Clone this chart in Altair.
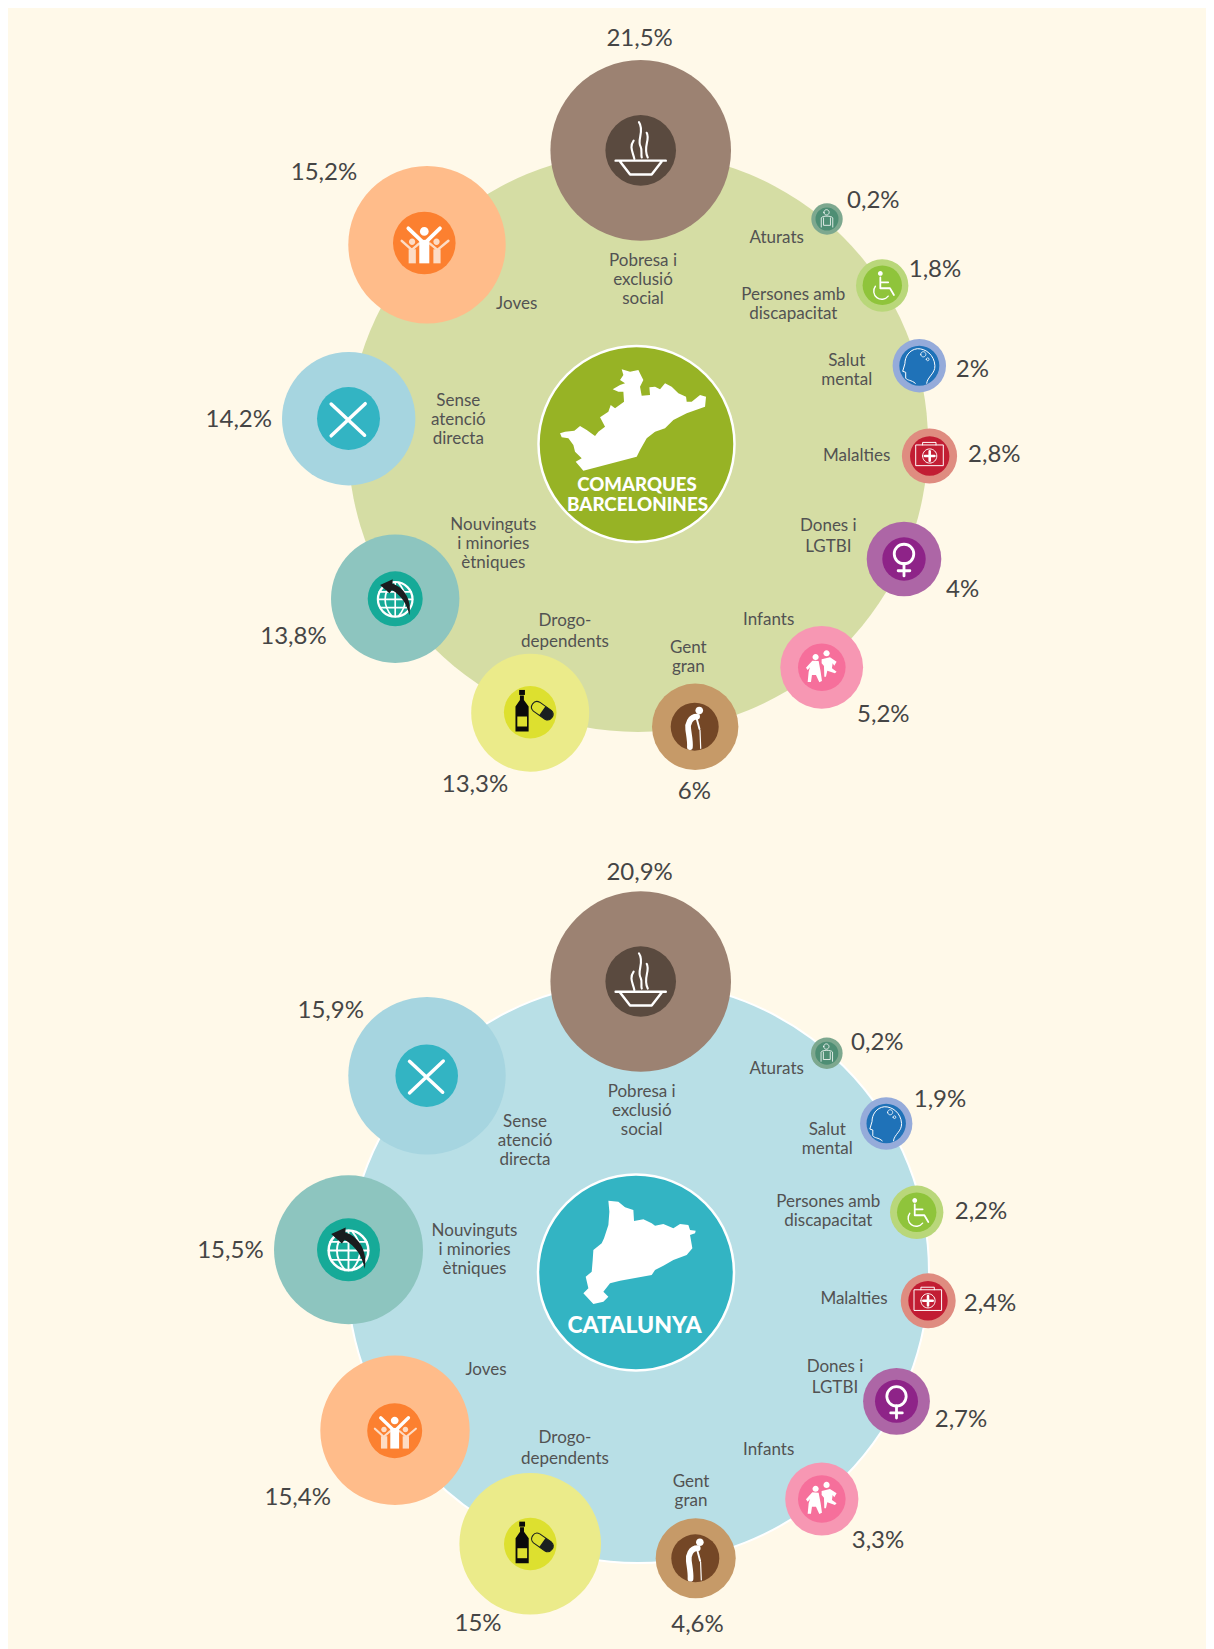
import altair as alt
import pandas as pd

# ---- reading values -------------------------------------------------------
KEYS = ["pobresa", "joves", "sense", "nouv", "drogo", "gent", "infants", "dones", "malalties", "salut", "discap", "aturats"]
NAMES = {
    "pobresa": "Pobresa i\nexclusió\nsocial", "joves": "Joves", "sense": "Sense\natenció\ndirecta",
    "nouv": "Nouvinguts\ni minories\nètniques", "drogo": "Drogo-\ndependents", "gent": "Gent\ngran",
    "infants": "Infants", "dones": "Dones i\nLGTBI", "malalties": "Malalties", "salut": "Salut\nmental",
    "discap": "Persones amb\ndiscapacitat", "aturats": "Aturats",
}
values_barcelona = ["21,5%", "15,2%", "14,2%", "13,8%", "13,3%", "6%", "5,2%", "4%", "2,8%", "2%", "1,8%", "0,2%"]
values_catalunya = ["20,9%", "15,4%", "15,9%", "15,5%", "15%", "4,6%", "3,3%", "2,7%", "2,4%", "1,9%", "2,2%", "0,2%"]
panel_titles = [("COMARQUES", 637, 485, 18.6), ("BARCELONINES", 637.5, 505, 18.8), ("CATALUNYA", 634.5, 1326, 23)]

# ---- layout, outside the value arrays --------------------------------------
OUTER = {"pobresa": "#9C8272", "joves": "#FFBC8A", "sense": "#A6D5E0", "nouv": "#8DC5BF", "drogo": "#EBEB8A", "gent": "#C69A68",
         "infants": "#F797B3", "dones": "#AD66A6", "malalties": "#DF8C80", "salut": "#95ABDA", "discap": "#B9D77A", "aturats": "#7DA88F"}
INNER = {"pobresa": "#5A4A3F", "joves": "#FC8030", "sense": "#33B4C3", "nouv": "#16AA98", "drogo": "#DDE02F", "gent": "#744726",
         "infants": "#F66F9B", "dones": "#8E2388", "malalties": "#C21D33", "salut": "#1F72B8", "discap": "#8FC43B", "aturats": "#4E8E74"}
# key: x, y, outer r, inner x, inner y, inner r
BUB1 = {"pobresa": (640.7, 150.4, 90.3, 640.7, 150.4, 35.3), "joves": (427, 244.7, 78.7, 424.3, 243, 31.3),
        "sense": (348.7, 418.7, 66.7, 348.5, 418.5, 31.5), "nouv": (395.2, 598.8, 64.2, 395.2, 598.8, 27.5),
        "drogo": (530.2, 712.7, 59, 530.2, 712.3, 26.3), "gent": (695.2, 726.8, 43.2, 694.7, 726.7, 24),
        "infants": (821.7, 667.3, 41.4, 821.8, 667.3, 23.8), "dones": (904, 559, 37.3, 904, 559, 21.7),
        "malalties": (929.5, 456, 27.6, 929.7, 456, 19.7), "salut": (919.3, 365.7, 26.7, 919.3, 365.7, 20),
        "discap": (882.2, 285.5, 26.2, 882.3, 285.3, 19.7), "aturats": (827, 219, 15.7, 827, 219, 11.5)}
BUB2 = {"pobresa": (640.7, 981.5, 90.3, 640.7, 981.5, 35.3), "joves": (395, 1430.3, 74.7, 394.7, 1430.7, 27.5),
        "sense": (427, 1075.7, 78.7, 426.7, 1075.7, 31.3), "nouv": (348.5, 1249.8, 74.5, 348.5, 1249.8, 31.5),
        "drogo": (530.2, 1543.8, 70.8, 530.3, 1544, 26.3), "gent": (695.7, 1558.3, 40, 695.3, 1558.3, 24),
        "infants": (821.8, 1499, 36.6, 821.8, 1499, 23.8), "dones": (896.5, 1401.3, 33.4, 896.5, 1401.3, 21.5),
        "malalties": (928.2, 1300.8, 27.5, 928, 1300.8, 19.7), "salut": (886.2, 1123.5, 26.2, 886.2, 1123.5, 19.7),
        "discap": (916.7, 1212.3, 26.7, 916.7, 1212.3, 19.7), "aturats": (826.8, 1053.2, 15.8, 826.8, 1053.2, 11.5)}
# category label anchor: x, y of the block centre, line height
LAB1 = {"pobresa": (643, 279.3, 19), "joves": (516.7, 303.3, 19), "sense": (458.3, 419, 19), "nouv": (493.3, 543.3, 19),
        "drogo": (565, 630, 21), "gent": (688.3, 656.7, 19), "infants": (768.7, 618.7, 19), "dones": (828.3, 535, 21),
        "malalties": (856.7, 454.7, 19), "salut": (846.7, 369, 19), "discap": (793.3, 303.3, 19), "aturats": (776.7, 236.7, 19)}
LAB2 = {"pobresa": (641.7, 1110, 19), "joves": (486, 1369, 19), "sense": (525, 1140, 19), "nouv": (474.5, 1248.7, 19),
        "drogo": (565, 1447.3, 21), "gent": (691, 1490.7, 19), "infants": (768.7, 1449.3, 19), "dones": (835, 1376, 21),
        "malalties": (854, 1298.3, 19), "salut": (827.3, 1138.3, 19), "discap": (828.3, 1210, 19), "aturats": (776.7, 1068.3, 19)}
# percentage label anchor
PCT1 = {"pobresa": (639.6, 37.9), "joves": (324, 171.5), "sense": (238.8, 418.7), "nouv": (293.5, 635.4), "drogo": (475, 783.3),
        "gent": (694.3, 790.7), "infants": (883.3, 713.3), "dones": (962.7, 588.3), "malalties": (994.3, 453.3),
        "salut": (972.3, 368.3), "discap": (935, 268.3), "aturats": (873.3, 199)}
PCT2 = {"pobresa": (639.6, 871), "joves": (297.7, 1496.7), "sense": (330.7, 1009.3), "nouv": (230.4, 1249.8), "drogo": (478, 1622.3),
        "gent": (697.5, 1623.3), "infants": (878, 1539), "dones": (961, 1418.3), "malalties": (990, 1302.7),
        "salut": (940, 1098.3), "discap": (981, 1210), "aturats": (877.3, 1041.7)}

BG = "#FFF9E9"
TX = "#525252"
TP = "#454545"
FONT = "Lato"

# ---- glyph helpers ---------------------------------------------------------
def n(v):
    return f"{v:.3f}".rstrip("0").rstrip(".")

def circ(cx, cy, r):
    return (f"M{n(cx-r)},{n(cy)} A{n(r)},{n(r)} 0 1 0 {n(cx+r)},{n(cy)} "
            f"A{n(r)},{n(r)} 0 1 0 {n(cx-r)},{n(cy)} Z")

def rect(x0, y0, x1, y1):
    return f"M{n(x0)},{n(y0)} L{n(x1)},{n(y0)} L{n(x1)},{n(y1)} L{n(x0)},{n(y1)} Z"

def poly(pts, cx, cy, u):
    return "M" + " L".join(f"{n((x-cx)/u)},{n((y-cy)/u)}" for x, y in pts) + " Z"

W = "#FFFFFF"
T = "transparent"

def icon_parts(key):
    """Parts in units of the inner radius: (path, fill, stroke, stroke width)."""
    if key == "pobresa":
        return [
            ("M-0.71,0.29 L0.71,0.29 M-0.58,0.32 L-0.3,0.68 L0.31,0.68 L0.59,0.32", T, W, 0.07),
            ("M-0.05,-0.8 C0.12,-0.55 -0.12,-0.3 0,-0.1 C0.05,0 0,0.1 0.03,0.2", T, W, 0.06),
            ("M-0.2,-0.28 C-0.33,-0.1 -0.22,0.05 -0.18,0.24", T, W, 0.06),
            ("M0.17,-0.5 C0.28,-0.3 0.05,-0.1 0.2,0.2", T, W, 0.06),
        ]
    if key == "joves":
        soft = "#FDDCC5"
        return [
            (rect(-0.5, 0.2, -0.27, 0.65), soft, T, 0),
            (rect(0.29, 0.2, 0.52, 0.65), soft, T, 0),
            ("M-0.72,-0.07 L-0.4,0.22 L-0.17,0.02", T, soft, 0.08),
            ("M0.77,-0.07 L0.42,0.22 L0.18,0.02", T, soft, 0.08),
            (circ(-0.39, -0.04, 0.1), soft, T, 0),
            (circ(0.39, -0.04, 0.1), soft, T, 0),
            (rect(-0.16, -0.1, 0.16, 0.65), W, T, 0),
            ("M-0.51,-0.47 L0,0.02 L0.5,-0.47", T, W, 0.12),
            (circ(0, -0.37, 0.14), W, T, 0),
        ]
    if key == "sense":
        return [("M-0.55,-0.46 L0.51,0.53 M0.53,-0.47 L-0.55,0.55", T, W, 0.11)]
    if key == "nouv":
        return [
            (circ(0, 0.02, 0.63), T, W, 0.08),
            ("M-0.58,-0.25 L0.58,-0.25 M-0.63,0.02 L0.63,0.02 M-0.55,0.32 L0.55,0.32", T, W, 0.06),
            ("M0,-0.6 L0,0.65 M-0.12,-0.58 C-0.45,-0.2 -0.45,0.25 -0.12,0.63 M0.12,-0.58 C0.45,-0.2 0.45,0.25 0.12,0.63", T, W, 0.06),
            ("M-0.55,-0.5 L-0.09,-0.71 L-0.1,-0.55 C0.25,-0.45 0.62,-0.05 0.52,0.6 C0.42,0.2 0.25,-0.1 -0.12,-0.32 L-0.21,-0.2 Z", "#1A1C1E", T, 0),
        ]
    if key == "drogo":
        dark = "#0A0A0A"
        return [
            (rect(-0.42, -0.85, -0.2, -0.66), dark, T, 0),
            ("M-0.39,-0.64 L-0.24,-0.64 L-0.24,-0.47 L-0.06,-0.22 L-0.06,0.73 L-0.56,0.73 L-0.56,-0.22 L-0.39,-0.47 Z", dark, T, 0),
            (rect(-0.49, 0.16, -0.12, 0.54), INNER["drogo"], T, 0),
            ("M0.12,-0.045 L0.56,0.265 A0.21,0.21 0 0 0 0.8,-0.075 L0.36,-0.385 A0.21,0.21 0 0 0 0.12,-0.045 Z", T, "#1A2020", 0.04),
            ("M0.34,0.11 L0.56,0.265 A0.21,0.21 0 0 0 0.8,-0.075 L0.58,-0.23 Z", "#1A2020", T, 0),
        ]
    if key == "gent":
        return [
            ("M0.1,-0.42 C-0.2,-0.42 -0.3,-0.1 -0.27,0.1 C-0.25,0.3 -0.18,0.6 -0.2,0.85", T, W, 0.24),
            ("M0.08,-0.35 L0.2,0.1", T, W, 0.08),
            ("M0.22,0.15 L0.25,0.9", T, W, 0.05),
            (circ(0.19, -0.67, 0.16), W, T, 0),
        ]
    if key == "infants":
        left = [(258, 503), (277, 482), (296, 483), (302, 515), (306, 543), (298, 547), (288, 525), (276, 525), (273, 546),
                (263, 546), (266, 515), (270, 502), (263, 510)]
        right = [(305, 478), (330, 472), (350, 485), (343, 497), (338, 490), (336, 505), (350, 515), (345, 520), (322, 512),
                 (318, 530), (313, 530), (312, 498), (305, 490)]
        return [
            (poly(left, 305.5, 502, 71.5), W, T, 0),
            (poly(right, 305.5, 502, 71.5), W, T, 0),
            (circ(-0.26, -0.43, 0.13), W, T, 0),
            (circ(0.2, -0.59, 0.13), W, T, 0),
        ]
    if key == "dones":
        return [
            (circ(0, -0.23, 0.45), T, W, 0.13),
            ("M0,0.2 L0,0.78 M-0.27,0.54 L0.27,0.54", T, W, 0.13),
        ]
    if key == "malalties":
        return [
            (rect(-0.69, -0.56, 0.69, 0.49), T, W, 0.05),
            ("M-0.36,-0.56 L-0.36,-0.69 L0.32,-0.69 L0.32,-0.56", T, W, 0.05),
            (circ(0, 0, 0.36), T, W, 0.05),
            ("M-0.24,0 L0.24,0 M0,-0.24 L0,0.24", T, W, 0.13),
        ]
    if key == "salut":
        return [
            ("M0.37,0.88 C0.4,0.55 0.8,0.4 0.78,0 C0.75,-0.55 0.3,-0.87 -0.1,-0.85 C-0.5,-0.8 -0.72,-0.45 -0.72,-0.1 "
             "L-0.83,0.28 L-0.68,0.33 L-0.68,0.62 C-0.6,0.75 -0.4,0.7 -0.2,0.88", T, W, 0.05),
            (circ(0.2, -0.57, 0.13), T, W, 0.04),
            (circ(0.42, -0.32, 0.07), T, W, 0.04),
        ]
    if key == "discap":
        return [
            (circ(-0.1, -0.6, 0.12), W, T, 0),
            ("M-0.1,-0.4 L-0.1,0.15 L0.39,0.15 L0.59,0.49 M-0.1,-0.15 L0.3,-0.15", T, W, 0.09),
            ("M-0.35,0.05 A0.38,0.38 0 1 0 0.3,0.55", T, W, 0.07),
        ]
    if key == "aturats":
        return [
            (circ(-0.04, -0.58, 0.23), T, W, 0.07),
            ("M-0.5,0.7 L-0.5,-0.1 C-0.4,-0.3 0.4,-0.3 0.5,-0.1 L0.5,0.7", T, W, 0.07),
            ("M-0.3,-0.1 L-0.3,0.55 L0.3,0.55 L0.3,-0.1", T, W, 0.07),
        ]
    return []

MAP_BARCELONA = [(130, 422), (290, 380), (300, 360), (320, 325), (345, 305), (375, 295), (400, 270), (440, 250), (495, 230), (498, 200),
                 (480, 195), (455, 215), (440, 215), (438, 200), (415, 190), (395, 170), (375, 160), (360, 178), (345, 170), (328, 172),
                 (330, 195), (305, 197), (300, 170), (310, 150), (305, 140), (295, 120), (270, 125), (245, 118), (250, 135), (240, 150),
                 (255, 160), (240, 165), (218, 178), (235, 185), (250, 185), (252, 215), (225, 235), (212, 225), (205, 245), (180, 262),
                 (195, 290), (175, 305), (165, 318), (140, 300), (120, 288), (103, 302), (75, 305), (60, 310), (65, 322), (85, 325),
                 (100, 345), (105, 365), (125, 385), (107, 395)]
MAP_CATALUNYA = [(205, 122), (235, 125), (255, 142), (280, 150), (282, 183), (310, 178), (335, 190), (345, 197), (370, 192), (400, 205),
                 (420, 192), (445, 195), (450, 210), (467, 212), (465, 220), (450, 225), (457, 265), (440, 285), (400, 300), (370, 317),
                 (345, 330), (335, 345), (240, 362), (210, 370), (190, 395), (205, 410), (190, 425), (160, 432), (130, 400), (145, 385),
                 (137, 350), (155, 335), (158, 300), (160, 270), (185, 250), (192, 235), (205, 195), (208, 155)]

# ---- tables ----------------------------------------------------------------
disc = [
    dict(x=638, y=442, r=290, fill="#D5DDA4", stroke=T, sw=0),
    dict(x=638, y=1272, r=291, fill="#B8DFE6", stroke=W, sw=2),
    dict(x=636.5, y=444, r=98, fill="#97B325", stroke=W, sw=2.5),
    dict(x=636, y=1272.5, r=98, fill="#33B4C3", stroke=W, sw=2.5),
]
pct_rows, lab_rows, glyph_rows = [], [], []
for panel, bub, labs, pcts, vals in ((1, BUB1, LAB1, PCT1, values_barcelona), (2, BUB2, LAB2, PCT2, values_catalunya)):
    for i, k in enumerate(KEYS):
        b = bub[k]
        disc.append(dict(x=b[0], y=b[1], r=b[2], fill=OUTER[k], stroke=T, sw=0))
    for i, k in enumerate(KEYS):
        b = bub[k]
        disc.append(dict(x=b[3], y=b[4], r=b[5], fill=INNER[k], stroke=T, sw=0))
        for path, fill, stroke, sw in icon_parts(k):
            glyph_rows.append(dict(x=b[3], y=b[4], size=(2 * b[5]) ** 2, path=path, fill=fill, stroke=stroke, sw=sw * b[5]))
        pct_rows.append(dict(x=pcts[k][0], y=pcts[k][1] + 1.5, text=vals[i]))
        # Vega anchors a multi-line text on its first line
        lines = NAMES[k].count("\n")
        lab_rows.append(dict(x=labs[k][0], y=labs[k][1] + 1 - lines * labs[k][2] / 2, lh=labs[k][2], text=NAMES[k]))

glyph_rows.append(dict(x=636.7, y=444, size=4, path=poly(MAP_BARCELONA, 290, 342, 3), fill=W, stroke=T, sw=0))
glyph_rows.append(dict(x=636.7, y=1272.7, size=4, path=poly(MAP_CATALUNYA, 290, 338, 3), fill=W, stroke=T, sw=0))

disc_df = pd.DataFrame(disc)
disc_df["area"] = (2 * disc_df["r"]) ** 2  # Vega symbol size = (diameter)^2
glyph_df = pd.DataFrame(glyph_rows)
pct_df = pd.DataFrame(pct_rows)
lab_df = pd.DataFrame(lab_rows)
title_df = pd.DataFrame(panel_titles, columns=["text", "x", "y", "fs"])

# ---- chart -----------------------------------------------------------------
X = alt.X("x:Q", scale=alt.Scale(domain=[8, 1206], nice=False, zero=False), axis=None)
Y = alt.Y("y:Q", scale=alt.Scale(domain=[1649, 8], nice=False, zero=False), axis=None)

circles = alt.Chart(disc_df).mark_circle(opacity=1).encode(
    x=X, y=Y,
    size=alt.Size("area:Q", scale=None),
    fill=alt.Fill("fill:N", scale=None),
    stroke=alt.Stroke("stroke:N", scale=None),
    strokeWidth=alt.StrokeWidth("sw:Q", scale=None),
)
glyphs = alt.Chart(glyph_df).mark_point(filled=True, opacity=1, strokeCap="round", strokeJoin="round").encode(
    x=X, y=Y,
    size=alt.Size("size:Q", scale=None),
    shape=alt.Shape("path:N", scale=None),
    fill=alt.Fill("fill:N", scale=None),
    stroke=alt.Stroke("stroke:N", scale=None),
    strokeWidth=alt.StrokeWidth("sw:Q", scale=None),
)
pct = alt.Chart(pct_df).mark_text(font=FONT, fontSize=24, color=TP, align="center", baseline="middle").encode(
    x=X, y=Y, text="text:N")
lab_layers = [
    alt.Chart(lab_df[lab_df.lh == lh]).mark_text(
        font=FONT, fontSize=17, color=TX, align="center", baseline="middle", lineBreak="\n", lineHeight=int(lh)
    ).encode(x=X, y=Y, text="text:N")
    for lh in sorted(lab_df.lh.unique())
]
titles = alt.Chart(title_df).mark_text(font=FONT, fontWeight=900, color=W, align="center", baseline="middle").encode(
    x=X, y=Y, text="text:N", size=alt.Size("fs:Q", scale=None))

chart = alt.layer(circles, glyphs, pct, *lab_layers, titles).properties(
    width=1198, height=1641, padding=0, background=BG,
).configure_view(strokeWidth=0)

chart.save("out.html", embed_options={"renderer": "svg", "actions": False})
